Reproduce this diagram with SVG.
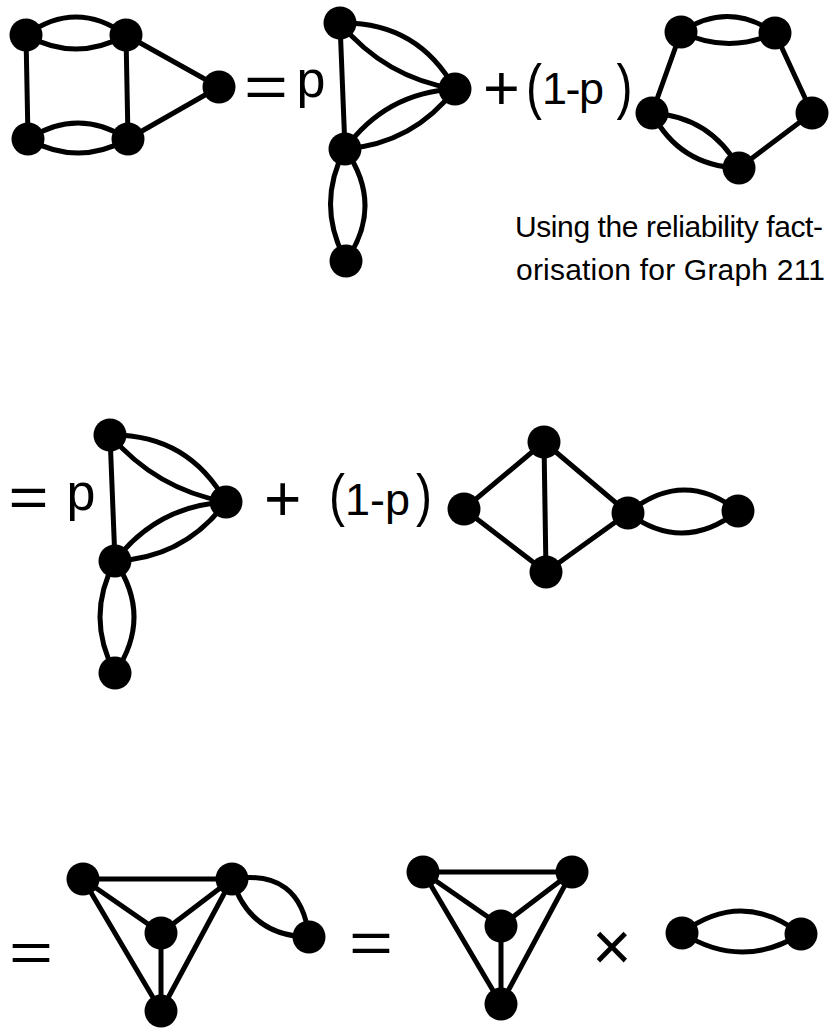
<svg xmlns="http://www.w3.org/2000/svg" width="835" height="1028" viewBox="0 0 835 1028">
<style>
.e{stroke:#000;stroke-width:5;fill:none;stroke-linecap:round}
.n{fill:#000}
.t{font-family:"Liberation Sans",Arial,Helvetica,sans-serif;fill:#000}
</style>
<rect width="835" height="1028" fill="#fff"/>
<g id="connectors">
<path class="e" d="M26,35 Q76,-1 126,35"/>
<path class="e" d="M26,35 Q76,63 126,35"/>
<path class="e" d="M28,139 Q78,107 128,139"/>
<path class="e" d="M28,139 Q78,167 128,139"/>
<path class="e" d="M26,35 L28,139"/>
<path class="e" d="M126,35 L128,139"/>
<path class="e" d="M126,35 L219,87"/>
<path class="e" d="M128,139 L219,87"/>
<path class="e" d="M340,23 L345,149"/>
<path class="e" d="M340,23 Q417.4,21.3 455,89"/>
<path class="e" d="M340,23 Q385,77.7 455,89"/>
<path class="e" d="M345,149 Q385.6,92.7 455,89"/>
<path class="e" d="M345,149 Q413.4,143.6 455,89"/>
<path class="e" d="M345,149 Q384.5,205 346,261"/>
<path class="e" d="M345,149 Q315.5,205 346,261"/>
<path class="e" d="M681,32 Q728,0.5 775,33"/>
<path class="e" d="M681,32 Q728,54.5 775,33"/>
<path class="e" d="M775,33 L812,113"/>
<path class="e" d="M812,113 L739,168"/>
<path class="e" d="M652,113 Q710.5,116.8 739,168"/>
<path class="e" d="M652,113 Q679.5,165.9 739,168"/>
<path class="e" d="M652,113 L681,32"/>
<path class="e" d="M110,435 L115,561"/>
<path class="e" d="M110,435 Q188,433.9 226,502"/>
<path class="e" d="M110,435 Q156,489.3 226,502"/>
<path class="e" d="M115,561 Q156.9,505.9 226,502"/>
<path class="e" d="M115,561 Q184.6,558 226,502"/>
<path class="e" d="M115,561 Q153,617 115,673"/>
<path class="e" d="M115,561 Q85,617 115,673"/>
<path class="e" d="M464,509 L544,442"/>
<path class="e" d="M464,509 L546,572"/>
<path class="e" d="M544,442 L546,572"/>
<path class="e" d="M544,442 L628,513"/>
<path class="e" d="M546,572 L628,513"/>
<path class="e" d="M628,513 Q683,468 738,511"/>
<path class="e" d="M628,513 Q683,554 738,511"/>
<path class="e" d="M83,879 L232,879"/>
<path class="e" d="M83,879 L161,933"/>
<path class="e" d="M232,879 L161,933"/>
<path class="e" d="M161,933 L161,1011"/>
<path class="e" d="M83,879 L161,1011"/>
<path class="e" d="M232,879 L161,1011"/>
<path class="e" d="M232,879 Q300.6,868 309,937"/>
<path class="e" d="M232,879 Q249.4,936 309,937"/>
<path class="e" d="M423,872 L572,872"/>
<path class="e" d="M423,872 L501,926"/>
<path class="e" d="M572,872 L501,926"/>
<path class="e" d="M501,926 L501,1004"/>
<path class="e" d="M423,872 L501,1004"/>
<path class="e" d="M572,872 L501,1004"/>
<path class="e" d="M682,933 Q741.5,888.5 801,934"/>
<path class="e" d="M682,933 Q741.5,970.5 801,934"/>
</g>
<g id="a1"><circle class="n" cx="26" cy="35" r="16.5"/></g>
<g id="a2"><circle class="n" cx="126" cy="35" r="16.5"/></g>
<g id="a3"><circle class="n" cx="28" cy="139" r="16.5"/></g>
<g id="a4"><circle class="n" cx="128" cy="139" r="16.5"/></g>
<g id="a5"><circle class="n" cx="219" cy="87" r="16.5"/></g>
<g id="b1"><circle class="n" cx="340" cy="23" r="16.5"/></g>
<g id="b2"><circle class="n" cx="455" cy="89" r="16.5"/></g>
<g id="b3"><circle class="n" cx="345" cy="149" r="16.5"/></g>
<g id="b4"><circle class="n" cx="346" cy="261" r="16.5"/></g>
<g id="c1"><circle class="n" cx="681" cy="32" r="16.5"/></g>
<g id="c2"><circle class="n" cx="775" cy="33" r="16.5"/></g>
<g id="c3"><circle class="n" cx="812" cy="113" r="16.5"/></g>
<g id="c4"><circle class="n" cx="739" cy="168" r="16.5"/></g>
<g id="c5"><circle class="n" cx="652" cy="113" r="16.5"/></g>
<g id="d1"><circle class="n" cx="110" cy="435" r="16.5"/></g>
<g id="d2"><circle class="n" cx="226" cy="502" r="16.5"/></g>
<g id="d3"><circle class="n" cx="115" cy="561" r="16.5"/></g>
<g id="d4"><circle class="n" cx="115" cy="673" r="16.5"/></g>
<g id="e1"><circle class="n" cx="464" cy="509" r="16.5"/></g>
<g id="e2"><circle class="n" cx="544" cy="442" r="16.5"/></g>
<g id="e3"><circle class="n" cx="546" cy="572" r="16.5"/></g>
<g id="e4"><circle class="n" cx="628" cy="513" r="16.5"/></g>
<g id="e5"><circle class="n" cx="738" cy="511" r="16.5"/></g>
<g id="f1"><circle class="n" cx="83" cy="879" r="16.5"/></g>
<g id="f2"><circle class="n" cx="232" cy="879" r="16.5"/></g>
<g id="f3"><circle class="n" cx="161" cy="933" r="16.5"/></g>
<g id="f4"><circle class="n" cx="161" cy="1011" r="16.5"/></g>
<g id="f5"><circle class="n" cx="309" cy="937" r="16.5"/></g>
<g id="g1"><circle class="n" cx="423" cy="872" r="16.5"/></g>
<g id="g2"><circle class="n" cx="572" cy="872" r="16.5"/></g>
<g id="g3"><circle class="n" cx="501" cy="926" r="16.5"/></g>
<g id="g4"><circle class="n" cx="501" cy="1004" r="16.5"/></g>
<g id="h1"><circle class="n" cx="682" cy="933" r="16.5"/></g>
<g id="h2"><circle class="n" cx="801" cy="934" r="16.5"/></g>
<g id="labels">
<text class="t" x="244" y="106.8" font-size="59" textLength="44" lengthAdjust="spacingAndGlyphs">=</text>
<text class="t" x="296.6" y="97" font-size="52">p</text>
<text class="t" x="483" y="109.5" font-size="63">+</text>
<text class="t" font-size="48" transform="translate(526,107) scale(1,1.28)">(</text>
<text class="t" x="542" y="104" font-size="45" letter-spacing="-1.5">1-p</text>
<text class="t" font-size="48" transform="translate(616.5,107) scale(1,1.28)">)</text>
<text class="t" x="515" y="237" font-size="30" textLength="308" lengthAdjust="spacing">Using the reliability fact-</text>
<text class="t" x="516" y="280" font-size="30" textLength="309" lengthAdjust="spacing">orisation for Graph 211</text>
<text class="t" x="8.4" y="517.4" font-size="57" textLength="40" lengthAdjust="spacingAndGlyphs">=</text>
<text class="t" x="66.6" y="510" font-size="52">p</text>
<text class="t" x="264" y="520.8" font-size="64">+</text>
<text class="t" font-size="48" transform="translate(329,514.8) scale(1,1.2)">(</text>
<text class="t" x="345" y="515" font-size="45">1-p</text>
<text class="t" font-size="48" transform="translate(416,514.8) scale(1,1.2)">)</text>
<text class="t" x="9" y="971" font-size="56" textLength="44" lengthAdjust="spacingAndGlyphs">=</text>
<text class="t" x="349" y="963" font-size="60" textLength="44" lengthAdjust="spacingAndGlyphs">=</text>
<text class="t" x="592" y="970" font-size="68">×</text>
</g>
</svg>
